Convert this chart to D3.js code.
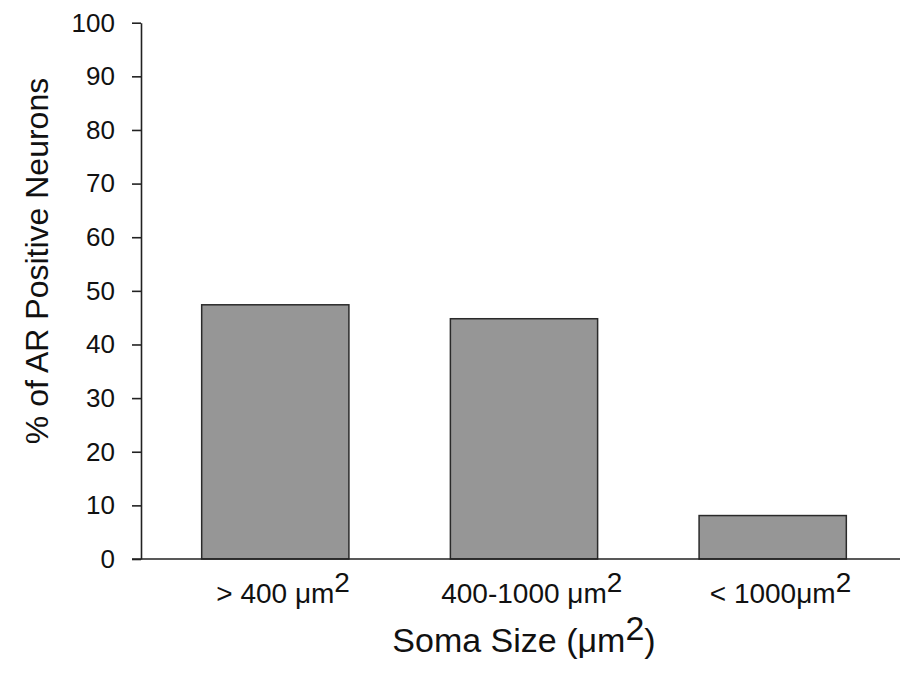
<!DOCTYPE html>
<html>
<head>
<meta charset="utf-8">
<script src="https://cdn.jsdelivr.net/npm/d3@7"></script>
<style>
  body { margin: 0; background: #fff; }
  svg { display: block; font-family: "Liberation Sans", Arial, sans-serif; }
</style>
</head>
<body>
<div id="chart"></div>
<script>
// data
var categories = ["> 400 ", "400-1000 ", "< 1000"];
var catUnits = ["\u03BCm", "\u03BCm", "\u03BCm"];
var values = [47.4, 44.8, 8.1];
var yTicks = [0, 10, 20, 30, 40, 50, 60, 70, 80, 90, 100];

var width = 900, height = 673;
var svg = d3.select("#chart").append("svg")
    .attr("width", width)
    .attr("height", height);

var x = d3.scaleBand()
    .domain(categories)
    .range([141, 907])
    .paddingInner(0.408)
    .paddingOuter(0.244);

var y = d3.scaleLinear()
    .domain([0, 100])
    .range([559, 22.7]);

// bars
svg.append("g")
  .selectAll("rect")
  .data(values)
  .enter().append("rect")
    .attr("x", function(d, i) { return x(categories[i]); })
    .attr("y", function(d) { return y(d); })
    .attr("width", x.bandwidth())
    .attr("height", function(d) { return y(0) - y(d); })
    .attr("fill", "#969696")
    .attr("stroke", "#2a2a2a")
    .attr("stroke-width", 1.5);

// y axis
var yAxis = svg.append("g")
    .attr("transform", "translate(141,0)")
    .call(d3.axisLeft(y).tickValues(yTicks).tickSize(9).tickPadding(17).tickSizeOuter(0));
yAxis.select(".domain").attr("stroke", "#222").attr("stroke-width", 1.6);
yAxis.selectAll(".tick line").attr("stroke", "#222").attr("stroke-width", 1.6);
yAxis.selectAll(".tick text")
    .attr("font-size", 26)
    .attr("font-family", "Liberation Sans, Arial, sans-serif")
    .attr("fill", "#111");

// x axis baseline
svg.append("line")
    .attr("x1", 132).attr("x2", 900)
    .attr("y1", y(0)).attr("y2", y(0))
    .attr("stroke", "#222")
    .attr("stroke-width", 1.6);

// category labels with superscript 2
var labels = svg.append("g")
  .selectAll("text")
  .data(categories)
  .enter().append("text")
    .attr("y", 603)
    .attr("font-size", 28)
    .attr("fill", "#111");
labels.append("tspan").attr("class", "base")
    .text(function(d, i) { return d + catUnits[i]; });
labels.append("tspan")
    .attr("dy", -11)
    .text("2");
labels.each(function(d) {
  var t = d3.select(this);
  var w = t.select(".base").node().getComputedTextLength();
  t.attr("x", x(d) + x.bandwidth() / 2 - w / 2);
});

// x title
var xt = svg.append("text")
    .attr("x", 524)
    .attr("y", 652)
    .attr("text-anchor", "middle")
    .attr("font-size", 34)
    .attr("fill", "#111");
xt.append("tspan").text("Soma Size (\u03BCm");
xt.append("tspan").attr("dy", -12).text("2");
xt.append("tspan").attr("dy", 12).text(")");

// y title
svg.append("text")
    .attr("transform", "translate(48,261) rotate(-90)")
    .attr("text-anchor", "middle")
    .attr("font-size", 32)
    .attr("fill", "#111")
    .text("% of AR Positive Neurons");
</script>
</body>
</html>
